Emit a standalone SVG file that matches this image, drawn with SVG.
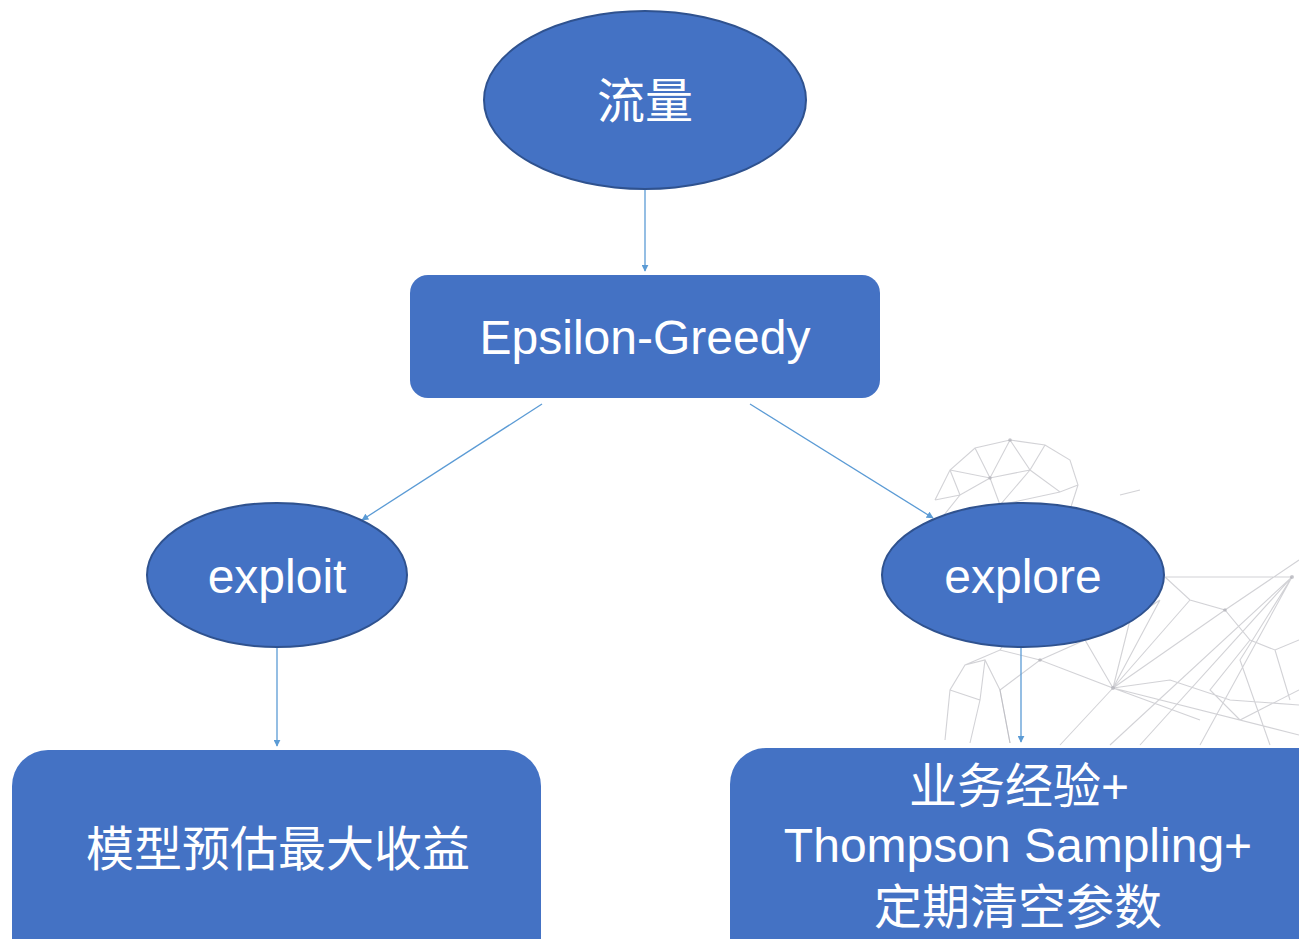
<svg xmlns="http://www.w3.org/2000/svg" width="1299" height="939" viewBox="0 0 1299 939">
  <defs>
    <style>
      .ell { fill: #4472C4; stroke: #2F528F; stroke-width: 2; }
      .box { fill: #4472C4; }
      .lbl { fill: #ffffff; font-family: "Liberation Sans", "Noto Sans CJK SC", sans-serif; font-size: 48px; text-anchor: middle; }
      .conn { stroke: #5B9BD5; stroke-width: 1.3; fill: none; marker-end: url(#arr); }
      .net { stroke: #b4b4bb; stroke-width: 1.1; fill: none; opacity: 0.6; }
      .dot { fill: #a9a9b0; opacity: 0.6; }
    </style>
    <marker id="arr" viewBox="0 0 10 10" refX="9" refY="5" markerWidth="7" markerHeight="7" markerUnits="userSpaceOnUse" orient="auto">
      <path d="M0,0 L10,5 L0,10 z" fill="#5B9BD5"/>
    </marker>
  </defs>
  <rect x="0" y="0" width="1299" height="939" fill="#ffffff"/>

  <g id="background-network">
    <path class="net" d="M935,500 L950,470 L975,448 L1010,440 L1045,445 L1070,460 L1078,485 L1070,510 M950,470 L990,478 L1010,440 M975,448 L990,478 L1030,470 L1045,445 M1030,470 L1060,492 L1078,485 M990,478 L1000,505 L1030,470 M935,500 L960,495 L990,478 M960,495 L950,470 M1000,505 L1060,492 M1120,495 L1140,490 M940,520 L960,495 M1010,440 L1030,470"/>
    <path class="net" d="M1165,577 L1292,577 L1110,745 M1292,577 L1140,745 M1292,577 L1200,745 M1292,577 L1240,660 L1270,745 M1165,577 L1190,600 L1225,610 L1250,640 L1275,650 L1299,640 M1160,600 L1113,688 L1040,660 L1000,690 L1010,743 M1113,688 L1170,680 L1230,700 L1299,705 M1113,688 L1060,745 M1113,688 L1299,735 M1113,688 L1200,720 M1040,660 L1085,640 L1113,688 M1190,600 L1113,688 M1225,610 L1113,688 M1250,640 L1210,690 L1240,720 L1299,690 M1225,610 L1299,560 M1275,650 L1290,700 M1085,640 L1130,620 L1160,600 M1130,620 L1113,688"/>
    <path class="net" d="M945,740 L950,690 L965,665 L985,660 L1000,690 L1010,743 M950,690 L980,700 L985,660 M980,700 L970,743 M965,665 L1000,650 L1040,660 M1000,650 L1020,620"/>
    <circle class="dot" cx="1292" cy="577" r="2"/>
    <circle class="dot" cx="1113" cy="688" r="2"/>
    <circle class="dot" cx="1225" cy="610" r="1.8"/>
    <circle class="dot" cx="1040" cy="660" r="1.8"/>
    <circle class="dot" cx="1010" cy="440" r="1.8"/>
    <circle class="dot" cx="990" cy="478" r="1.8"/>
  </g>

  <g id="connectors">
    <line class="conn" x1="645" y1="190" x2="645" y2="271"/>
    <line class="conn" x1="542" y1="404" x2="362" y2="520"/>
    <line class="conn" x1="750" y1="404" x2="933" y2="518"/>
    <line class="conn" x1="277" y1="648" x2="277" y2="746"/>
    <line class="conn" x1="1021" y1="648" x2="1021" y2="742"/>
  </g>

  <g id="node-traffic">
    <ellipse class="ell" cx="645" cy="100" rx="161" ry="89"/>
    <text class="lbl" x="645" y="118">流量</text>
  </g>

  <g id="node-epsilon">
    <rect class="box" x="410" y="275" width="470" height="123" rx="18"/>
    <text class="lbl" x="645" y="354">Epsilon-Greedy</text>
  </g>

  <g id="node-exploit">
    <ellipse class="ell" cx="277" cy="575" rx="130" ry="72"/>
    <text class="lbl" x="277" y="593">exploit</text>
  </g>

  <g id="node-explore">
    <ellipse class="ell" cx="1023" cy="575" rx="141" ry="72"/>
    <text class="lbl" x="1023" y="593">explore</text>
  </g>

  <g id="node-model">
    <rect class="box" x="12" y="750" width="529" height="230" rx="36"/>
    <text class="lbl" x="278" y="866">模型预估最大收益</text>
  </g>

  <g id="node-thompson">
    <rect class="box" x="730" y="748" width="610" height="230" rx="36"/>
    <text class="lbl" x="1019" y="803">业务经验+</text>
    <text class="lbl" x="1018" y="862">Thompson Sampling+</text>
    <text class="lbl" x="1018" y="924">定期清空参数</text>
  </g>
</svg>
